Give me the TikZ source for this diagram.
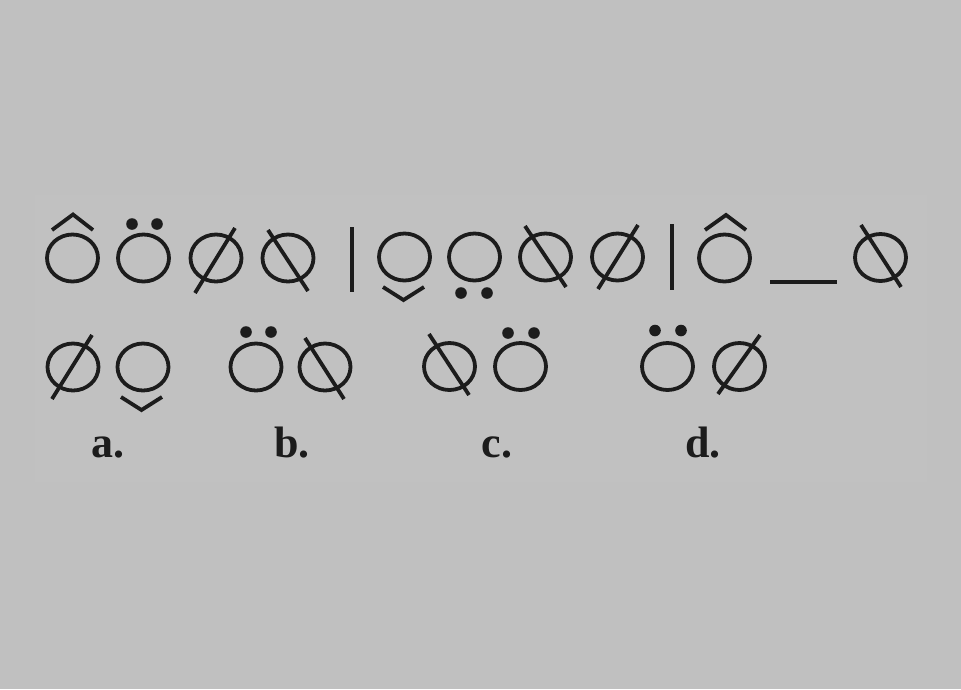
\documentclass[tikz,border=0pt]{standalone}
\usepackage{fontspec}
\setmainfont{Liberation Serif}
\definecolor{panelgray}{HTML}{C0C0C0}
\definecolor{bandgray}{HTML}{C1C1C1}
\definecolor{glyphink}{HTML}{1C1C1C}

\begin{document}
\begin{tikzpicture}[x=1pt, y=-1pt,
  ring/.style={glyphink, line width=3.8pt},
  bar/.style={glyphink, line width=4.2pt},
  tag/.style={font=\fontsize{44}{50}\selectfont\bfseries, text=glyphink, inner sep=0pt, anchor=base}]
\useasboundingbox (0,0) rectangle (961,689);
\fill[panelgray] (0,0) rectangle (961,689);
\fill[bandgray] (35,195) rectangle (927,482);
\draw[ring] (72.5,258) ellipse (25.5 and 23.5);
\draw[ring] (52,230) -- (73,214.5) -- (93,230);
\draw[ring] (143.5,258) ellipse (25.5 and 23.5);
\fill[glyphink] (132,224) circle (5.8);
\fill[glyphink] (157,224) circle (5.8);
\draw[ring] (216,258) ellipse (25.5 and 23.5);
\draw[ring] (195,293) -- (235,228);
\draw[ring] (288,258) ellipse (25.5 and 23.5);
\draw[ring] (268,230) -- (308,291);
\draw[bar] (352,227) -- (352,292);
\draw[ring] (404.5,257) ellipse (25.5 and 23.5);
\draw[ring] (383,287) -- (403.5,300) -- (424,287);
\draw[ring] (474.5,257) ellipse (25.5 and 23.5);
\fill[glyphink] (461,293) circle (5.8);
\fill[glyphink] (487,293) circle (5.8);
\draw[ring] (545.5,257) ellipse (25.5 and 23.5);
\draw[ring] (525,226) -- (566,287);
\draw[ring] (617.5,257) ellipse (25.5 and 23.5);
\draw[ring] (598,289) -- (638,225);
\draw[bar] (672,224) -- (672,290);
\draw[ring] (724.5,258) ellipse (25.5 and 23.5);
\draw[ring] (705,230) -- (726,215) -- (746,230);
\draw[ring] (770,282) -- (837,282);
\draw[ring] (880.5,257.5) ellipse (25.5 and 23.5);
\draw[ring] (861,225) -- (901,287);
\draw[ring] (73,367) ellipse (25.5 and 23.5);
\draw[ring] (52,399) -- (92,335);
\draw[ring] (143,367) ellipse (25.5 and 23.5);
\draw[ring] (121,397) -- (141.5,410) -- (162,397);
\draw[ring] (256,367) ellipse (25.5 and 23.5);
\fill[glyphink] (246,332) circle (5.8);
\fill[glyphink] (271,332) circle (5.8);
\draw[ring] (325,367) ellipse (25.5 and 23.5);
\draw[ring] (305,338) -- (344,399);
\draw[ring] (449.5,366.5) ellipse (25.5 and 23.5);
\draw[ring] (429,334) -- (469,395);
\draw[ring] (520.5,366.5) ellipse (25.5 and 23.5);
\fill[glyphink] (508,333) circle (5.8);
\fill[glyphink] (534,333) circle (5.8);
\draw[ring] (667.5,366.5) ellipse (25.5 and 23.5);
\fill[glyphink] (655,330.5) circle (5.8);
\fill[glyphink] (681,330.5) circle (5.8);
\draw[ring] (739.5,366.5) ellipse (25.5 and 23.5);
\draw[ring] (718,394) -- (760,335);
\node[tag] (laba) at (108,457) {a.};
\node[tag] (labb) at (292,457) {b.};
\node[tag] (labc) at (497,457) {c.};
\node[tag] (labd) at (703,457) {d.};
\end{tikzpicture}
\end{document}
